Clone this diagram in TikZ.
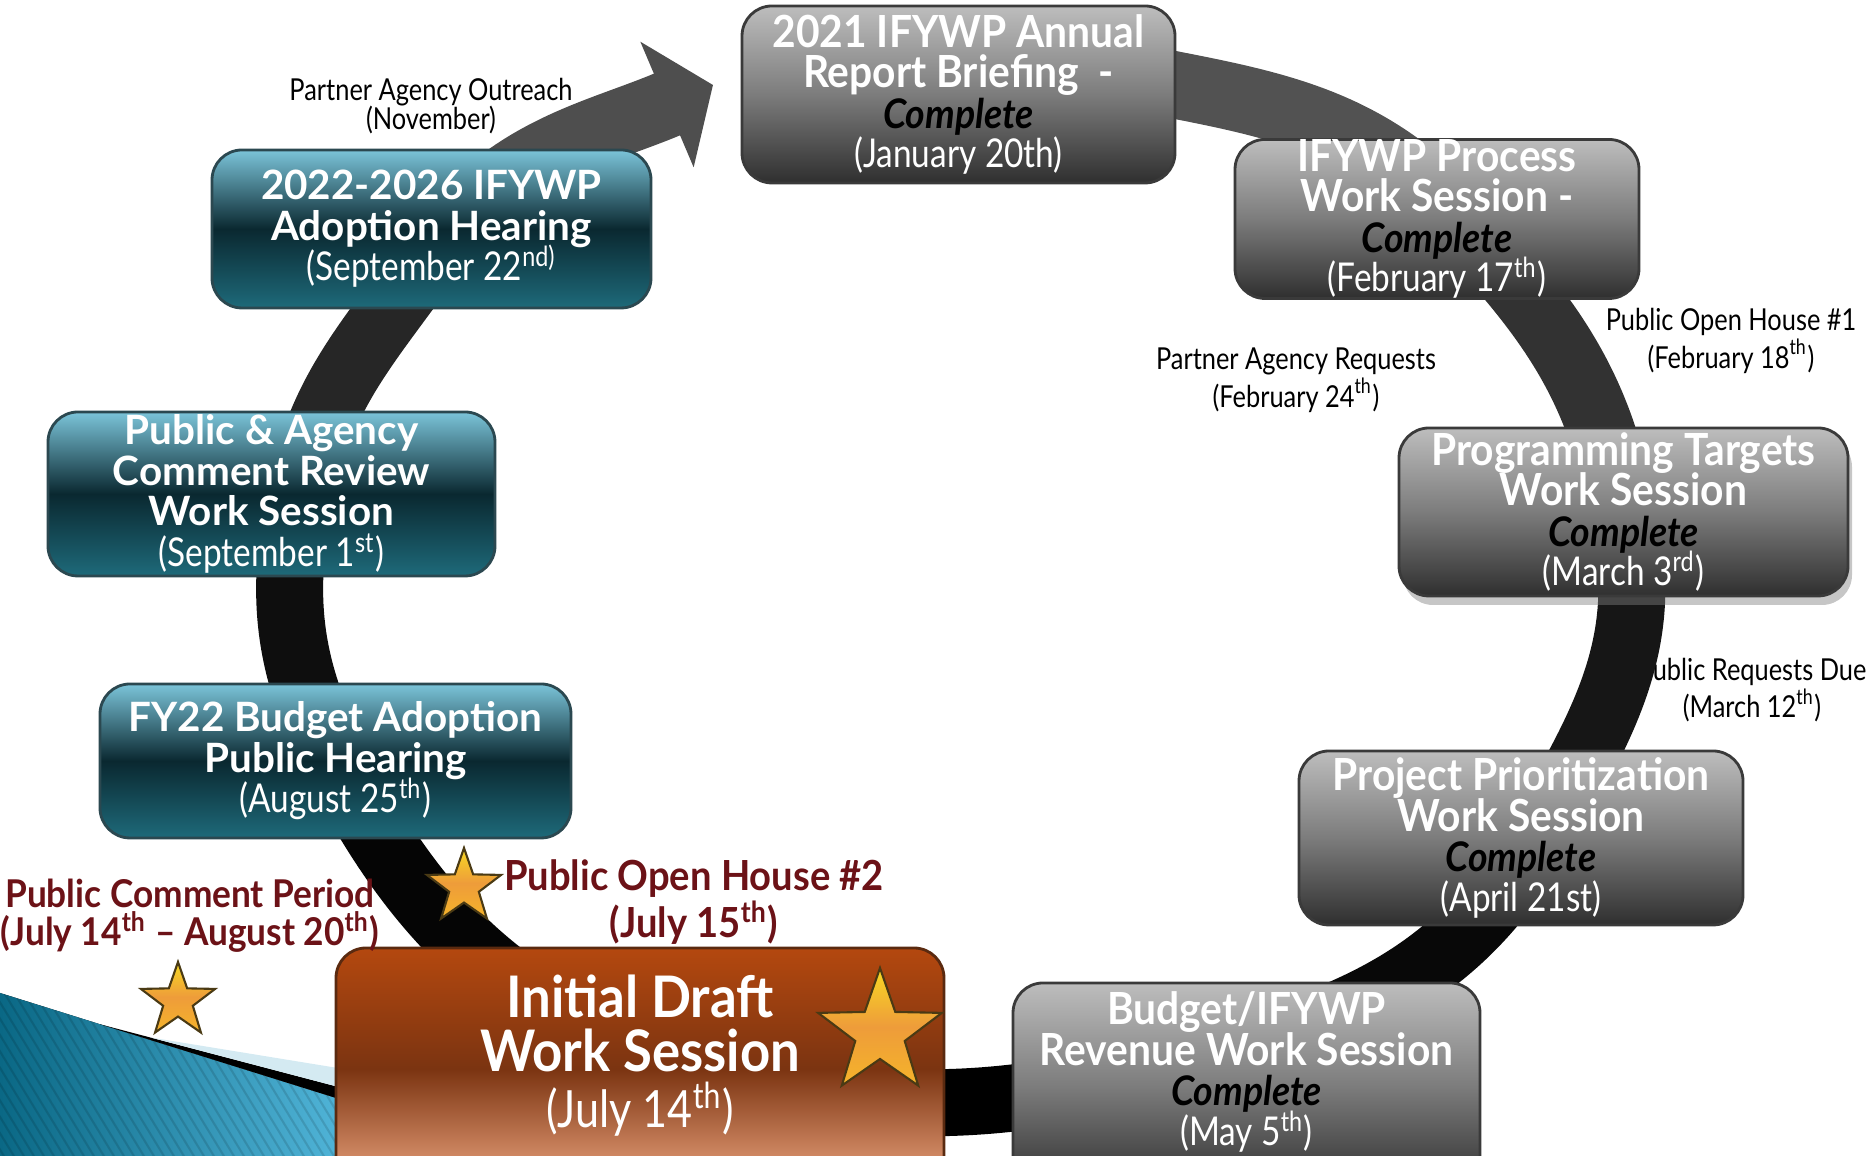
\documentclass[tikz,border=0pt]{standalone}
\usepackage{fontspec}
\setmainfont{Lato}
\newfontfamily\condfont{Lato}[FakeStretch=0.92]
\newfontfamily\slimfont{Lato}[FakeStretch=0.84]
\usetikzlibrary{shapes.geometric,arrows.meta,shadows,backgrounds}

\definecolor{greyT}{HTML}{BDBDBD}
\definecolor{greyM}{HTML}{7C7C7C}
\definecolor{greyB}{HTML}{2F2F2F}
\definecolor{greyEdge}{HTML}{3A3A3A}
\definecolor{tealT}{HTML}{7BC4D9}
\definecolor{tealM}{HTML}{0A2830}
\definecolor{tealB}{HTML}{1E6A7A}
\definecolor{tealEdge}{HTML}{2B4850}
\definecolor{rustT}{HTML}{B4480F}
\definecolor{rustM}{HTML}{7B3411}
\definecolor{rustB}{HTML}{F0A882}
\definecolor{rustEdge}{HTML}{5A2A10}
\definecolor{redlab}{HTML}{6C1217}
\definecolor{starY}{HTML}{F8D923}
\definecolor{starO}{HTML}{EE9C3A}
\definecolor{starY2}{HTML}{F5B42A}
\definecolor{starEdge}{HTML}{4A3A14}
\definecolor{ringI}{HTML}{4E4E4E}
\definecolor{ringA}{HTML}{525252}
\definecolor{ringB}{HTML}{323232}
\definecolor{ringC}{HTML}{161616}
\definecolor{ringD}{HTML}{080808}
\definecolor{ringF}{HTML}{050505}
\definecolor{ringG}{HTML}{0E0E0E}
\definecolor{ringH}{HTML}{262626}
\definecolor{swDark}{HTML}{0A6885}
\definecolor{swLight}{HTML}{52B6DA}
\definecolor{swPale}{HTML}{D4EAF2}

\newcommand\ttl[1]{{\condfont\bfseries\fontsize{12.6}{11}\selectfont #1}}
\newcommand\tealttl[1]{{\bfseries\fontsize{11.5}{11}\selectfont #1}}
\newcommand\bigttl[1]{{\condfont\bfseries\fontsize{16.3}{15}\selectfont #1}}
\newcommand\cpl{{\condfont\bfseries\itshape\fontsize{11.6}{11}\selectfont\color{black}Complete}}
\newcommand\when[1]{{\slimfont\fontsize{11.3}{11}\selectfont #1}}
\newcommand\sups[1]{\textsuperscript{#1}}
\newcommand\tightlines{\lineskiplimit=-30pt\relax\lineskip=0pt\relax}

\begin{document}
\begin{tikzpicture}[
  ring/.style={line width=0.67cm},
  event box/.style={rounded corners=0.3cm, align=center, inner sep=0pt, text=white,
    line width=0.8pt, font=\fontsize{11}{11.5}\selectfont\tightlines},
  grey box/.style={event box, draw=greyEdge, top color=greyT, bottom color=greyB, middle color=greyM},
  teal box/.style={event box, draw=tealEdge, top color=tealT, bottom color=tealB, middle color=tealM},
  rust box/.style={event box, draw=rustEdge, top color=rustT, bottom color=rustB, middle color=rustM,
    font=\fontsize{15}{15.3}\selectfont\tightlines},
  note/.style={align=center, font=\slimfont\fontsize{8.6}{8.3}\selectfont},
  red note/.style={align=center, text=redlab, font=\condfont\bfseries\fontsize{10.9}{10.9}\selectfont},
  gold star/.style={star, star points=5, star point ratio=2.5, inner sep=0pt, draw=starEdge,
    line width=0.6pt, top color=starY, bottom color=starY2, middle color=starO}]

  \useasboundingbox (0,0) rectangle (18.76,11.56);

  % event boxes
  \node[grey box, minimum width=4.33cm, minimum height=1.77cm] (jan) at (9.585,10.615)
    {\ttl{2021 IFYWP Annual}\\ \ttl{Report Briefing~~-}\\ \cpl\\[-0.3pt] \when{(January 20th)}};
  \node[grey box, minimum width=4.04cm, minimum height=1.56cm] (feb) at (14.37,9.37)
    {\ttl{IFYWP Process}\\ \ttl{Work Session -}\\ \cpl\\[-0.3pt] \when{(February 17\sups{th})}};
  \node[grey box, drop shadow={shadow xshift=0.04cm, shadow yshift=-0.09cm, opacity=0.45},
    minimum width=4.49cm, minimum height=1.68cm] (mar) at (16.235,6.44)
    {\ttl{Programming Targets}\\ \ttl{Work Session}\\ \cpl\\[-0.3pt] \when{(March 3\sups{rd})}};
  \node[grey box, minimum width=4.44cm, minimum height=1.74cm] (apr) at (15.21,3.18)
    {\ttl{Project Prioritization}\\ \ttl{Work Session}\\ \cpl\\[-0.3pt] \when{(April 21st)}};
  \node[grey box, minimum width=4.67cm, minimum height=2.07cm] (may) at (12.465,0.695)
    {\ttl{Budget/IFYWP}\\ \ttl{Revenue Work Session}\\ \cpl\\[-0.3pt]
     \when{(May 5\sups{th})\rule[-0.36cm]{0pt}{0pt}}};
  \node[rust box, minimum width=6.08cm, minimum height=2.42cm] (jul) at (6.40,0.87)
    {\bigttl{Initial Draft}\\ \bigttl{Work Session}\\[0.6pt]
     {\slimfont\fontsize{14.6}{14}\selectfont (July 14\sups{th})\rule[-0.36cm]{0pt}{0pt}}};
  \node[teal box, minimum width=4.71cm, minimum height=1.54cm] (aug) at (3.355,3.95)
    {\tealttl{FY22 Budget Adoption}\\ \tealttl{Public Hearing}\\ \when{(August 25\sups{th})}};
  \node[teal box, minimum width=4.47cm, minimum height=1.64cm] (sepone) at (2.715,6.62)
    {\tealttl{Public \& Agency}\\ \tealttl{Comment Review}\\ \tealttl{Work Session}\\ \when{(September 1\sups{st})}};
  \node[teal box, minimum width=4.39cm, minimum height=1.58cm] (septwo) at (4.315,9.27)
    {\tealttl{2022-2026 IFYWP}\\ \tealttl{Adoption Hearing}\\ \when{(September 22\sups{nd)}}};

  \coordinate (tip) at (7.13,10.71);

  % side notes
  \node[note] (outreach) at (4.31,10.50) {Partner Agency Outreach\\(November)};
  \node[note] (openone) at (17.31,8.15) {Public Open House \#1\\(February 18\sups{th})};
  \node[note] (agencyreq) at (12.96,7.76) {Partner Agency Requests\\(February 24\sups{th})};
  \node[red note] (period) at (1.90,2.40)
    {Public Comment Period\\(July 14\sups{th} \textendash{} August 20\sups{th})};
  \node[red note, font=\condfont\bfseries\fontsize{11.8}{11.5}\selectfont] (opentwo) at (6.94,2.54)
    {Public Open House \#2\\(July 15\sups{th})};

  % stars
  \node[gold star, minimum size=1.3cm] (bigstar) at (8.80,1.23) {};
  \node[gold star, minimum size=0.78cm] (housestar) at (4.64,2.69) {};
  \node[gold star, minimum size=0.78cm] (periodstar) at (1.78,1.55) {};

  \begin{pgfonlayer}{background}
    % swoosh
    \fill[left color=swDark, right color=swLight] (0,1.63) -- (3.5,0.536) -- (3.5,0) -- (0,0) -- cycle;
    \begin{scope}
      \clip (0,1.63) -- (3.5,0.536) -- (3.5,0) -- (0,0) -- cycle;
      \foreach \k in {-1.2,-1.1,...,3.6}
        \draw[black, opacity=0.12, line width=0.6pt] (\k,1.7) -- ++(1.1,-1.8);
    \end{scope}
    \fill[black] (1.0,1.317) -- (3.5,0.66) -- (3.5,0.536) -- cycle;
    \fill[swPale] (1.5,1.186) -- (3.5,0.86) -- (3.5,0.66) -- cycle;

    \node[note] (reqdue) at (17.52,4.66) {Public Requests Due\\(March 12\sups{th})};

    % the ring
    \draw[ring, draw=ringI, -{Triangle[width=1.34cm,length=0.5cm]}]
      ([shift={(-0.015,-0.27)}]septwo.center) to[out=55,in=203] (tip);
    \draw[ring, draw=ringA] ([shift={(1.415,0.245)}]jan.center) to[out=-12,in=133] ([shift={(0.18,0.03)}]feb.center);
    \draw[ring, draw=ringB] ([shift={(0.18,0.03)}]feb.center) to[out=-47,in=100] ([xshift=-0.015cm]mar.center);
    \draw[ring, draw=ringC] ([xshift=-0.015cm]mar.center) to[out=-76,in=60] ([xshift=0.17cm]apr.center);
    \draw[ring, draw=ringD] ([xshift=0.17cm]apr.center) to[out=-120,in=15] ([shift={(-0.465,0.265)}]may.center);
    \draw[ring, draw=black] ([shift={(-0.465,0.265)}]may.center) to[out=-165,in=-15] ([xshift=0.6cm]jul.center);
    \draw[ring, draw=ringF] ([xshift=0.6cm]jul.center) to[out=165,in=-63] (aug.center);
    \draw[ring, draw=ringG] (aug.center) to[out=117,in=-102] ([shift={(0.3,0.05)}]sepone.center);
    \draw[ring, draw=ringH] ([shift={(0.3,0.05)}]sepone.center) to[out=78,in=-125] ([shift={(-0.015,-0.27)}]septwo.center);
  \end{pgfonlayer}
\end{tikzpicture}
\end{document}
